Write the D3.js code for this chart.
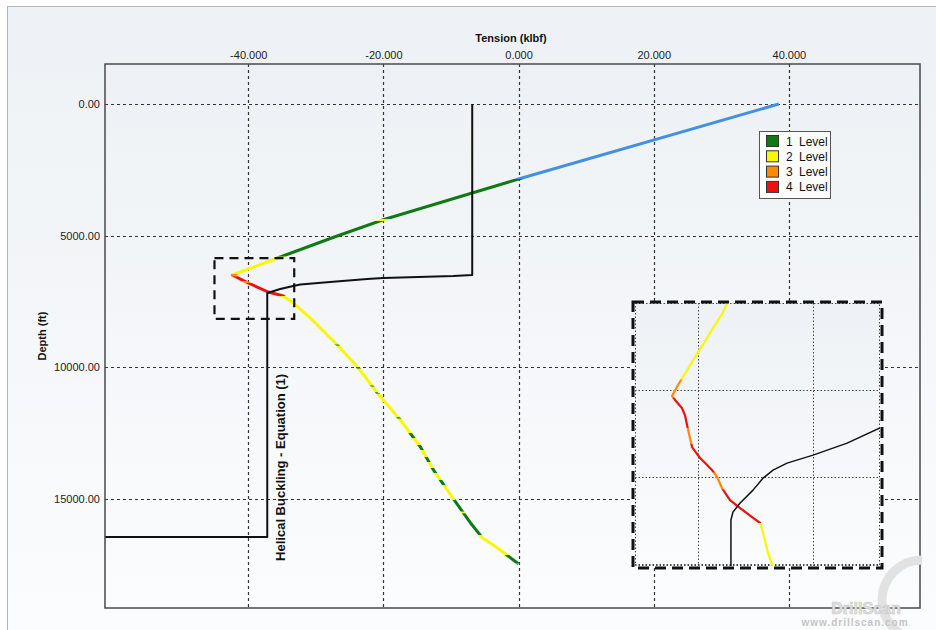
<!DOCTYPE html>
<html>
<head>
<meta charset="utf-8">
<script src="https://cdn.jsdelivr.net/npm/d3@7"></script>
<style>
  html, body { margin: 0; padding: 0; background: #fff; }
  svg { display: block; font-family: "Liberation Sans", Arial, sans-serif; }
</style>
</head>
<body>
<svg id="chart" width="936" height="630"></svg>
<script>
// ---------- data ----------
// Axis ticks
const tensionTicks = [-40, -20, 0, 20, 40];          // klbf
const depthTicks = [0, 5000, 10000, 15000];          // ft

// Effective tension along the string (top -> bottom)
const stringDepth   = [0, 2848, 4405, 5051, 5810, 6494, 6797, 7139, 7291, 7557, 8127, 9152, 10026, 10975, 12000, 13025, 13899, 15000, 15911, 16481, 16861, 17469];
const stringTension = [38.5, 0, -20.15, -27.26, -35.26, -42.37, -40.0, -37.04, -34.81, -33.33, -30.81, -26.81, -23.70, -20.89, -17.48, -14.52, -12.59, -9.63, -7.11, -5.33, -3.11, 0];

// Buckling level along the string: depth where each level starts, and the level (0 = none)
const levelStartDepth = [0, 2848, 4370, 4440, 5800, 6460, 6540, 6720, 6800, 7290, 9130, 9185, 9990, 10050, 10690, 10735, 10950, 11000, 11900, 11950, 12494, 12684, 12950, 13139, 13405, 13595, 13823, 14013, 14279, 14468, 15038, 15480, 15540, 16367, 17127, 17431];
const levelCode       = [0, 1, 2, 1, 2, 3, 4, 3, 4, 2, 1, 2, 1, 2, 1, 2, 1, 2, 1, 2, 1, 2, 1, 2, 1, 2, 1, 2, 1, 2, 1, 2, 1, 2, 1, 0];

// Helical buckling limit, Equation (1)
const limitDepth   = [0, 6494, 6532, 6608, 6646, 6760, 6855, 6911, 7025, 7177, 16443, 16443];
const limitTension = [-6.86, -6.86, -9.67, -20.02, -22.4, -27.9, -32.3, -33.35, -35.27, -37.19, -37.19, -61.2];

// Legend
const legendLevels = [1, 2, 3, 4];
const legendText = "Level";

// Detail window around the neutral point
const detailTension = [-45.0, -33.2];
const detailDepth = [5850, 8160];

// Detail view data
const detailStringDepth   = [6000, 6052, 6282, 6471, 6534, 6557, 6603, 6644, 6730, 6828, 6891, 6960, 7000, 7063, 7132, 7178, 7230, 7264, 7322, 7437, 7510];
const detailStringTension = [-38.74, -38.91, -40.0, -40.87, -41.13, -41.0, -40.70, -40.57, -40.43, -40.26, -39.91, -39.39, -39.17, -38.96, -38.61, -38.17, -37.65, -37.30, -37.17, -36.96, -36.75];
const detailLevelStart = [6000, 6440, 6545, 6720, 6810, 6975, 7070, 7264];
const detailLevelCode  = [2, 3, 4, 3, 4, 3, 4, 2];
const detailLimitDepth   = [6718, 6805, 6874, 6920, 6960, 7006, 7075, 7149, 7201, 7247, 7511];
const detailLimitTension = [-32.09, -33.52, -35.0, -36.13, -36.74, -37.17, -37.61, -38.17, -38.48, -38.57, -38.57];
const detailTensionGrid = [-40, -35];
const detailDepthGrid = [6500, 7000, 7500];

// ---------- styling ----------
const levelColor = { 0: "#4390e0", 1: "#0f7a12", 2: "#f8f800", 3: "#ff8a00", 4: "#f01010" };

const svg = d3.select("#chart");
const W = 936, H = 630;
const plot = { left: 105, right: 920, top: 64, bottom: 608 };

const x = d3.scaleLinear().domain([-61.2, 59.4]).range([plot.left, plot.right]);
const y = d3.scaleLinear().domain([-1520, 19140]).range([plot.top, plot.bottom]);

const defs = svg.append("defs");
const bg = defs.append("linearGradient").attr("id", "bgGrad")
  .attr("x1", 0).attr("y1", 0).attr("x2", 0).attr("y2", 1);
bg.append("stop").attr("offset", "0%").attr("stop-color", "#edf1f5");
bg.append("stop").attr("offset", "100%").attr("stop-color", "#fbfcfd");

defs.append("clipPath").attr("id", "plotClip").append("rect")
  .attr("x", plot.left).attr("y", plot.top)
  .attr("width", plot.right - plot.left).attr("height", plot.bottom - plot.top);

// page background and frame
svg.append("rect").attr("width", W).attr("height", H).attr("fill", "#ffffff");
svg.append("rect").attr("x", 7).attr("y", 6).attr("width", W - 7).attr("height", H - 6).attr("fill", "url(#bgGrad)");
svg.append("line").attr("x1", 7).attr("x2", W).attr("y1", 6.5).attr("y2", 6.5).attr("stroke", "#b5b5b5");
svg.append("line").attr("x1", 7.5).attr("x2", 7.5).attr("y1", 6).attr("y2", H).attr("stroke", "#b5b5b5");

// plot area
svg.append("rect")
  .attr("x", plot.left).attr("y", plot.top)
  .attr("width", plot.right - plot.left).attr("height", plot.bottom - plot.top)
  .attr("fill", "url(#bgGrad)");

// grid
const grid = svg.append("g").attr("stroke", "#333").attr("stroke-width", 1.2).attr("stroke-dasharray", "3,3");
grid.selectAll("line.v").data(tensionTicks).join("line").attr("class", "v")
  .attr("x1", d => Math.round(x(d)) + 0.5).attr("x2", d => Math.round(x(d)) + 0.5)
  .attr("y1", plot.top).attr("y2", plot.bottom);
grid.selectAll("line.h").data(depthTicks).join("line").attr("class", "h")
  .attr("y1", d => Math.round(y(d)) + 0.5).attr("y2", d => Math.round(y(d)) + 0.5)
  .attr("x1", plot.left).attr("x2", plot.right);

// axes
const xAxis = svg.append("g").attr("transform", `translate(0,${plot.top})`)
  .call(d3.axisTop(x).tickValues(tensionTicks).tickFormat(d => d.toFixed(3)).tickSize(0).tickPadding(5));
xAxis.select(".domain").remove();
xAxis.selectAll("text").attr("font-size", 11).attr("fill", "#222").attr("font-family", "Liberation Sans, Arial, sans-serif");

const yAxis = svg.append("g").attr("transform", `translate(${plot.left},0)`)
  .call(d3.axisLeft(y).tickValues(depthTicks).tickFormat(d => d.toFixed(2)).tickSize(0).tickPadding(5));
yAxis.select(".domain").remove();
yAxis.selectAll("text").attr("font-size", 11).attr("fill", "#222").attr("font-family", "Liberation Sans, Arial, sans-serif");

svg.append("text").attr("x", 511).attr("y", 42).attr("text-anchor", "middle")
  .attr("font-size", 11).attr("font-weight", "bold").attr("fill", "#111").text("Tension (klbf)");
svg.append("text").attr("transform", `translate(46,${(plot.top + plot.bottom) / 2}) rotate(-90)`)
  .attr("text-anchor", "middle").attr("font-size", 11).attr("font-weight", "bold").attr("fill", "#111").text("Depth (ft)");

// tension curve, coloured by buckling level through horizontal depth strips
const line = d3.line().x(d => x(d.t)).y(d => y(d.d));
const stringPts = stringDepth.map((d, i) => ({ d, t: stringTension[i] }));

function levelStrips(starts, codes, yScale, x0, x1, yEnd, prefix) {
  return starts.map((s, i) => {
    const top = i === 0 ? yScale.range()[0] - 5 : yScale(s);
    const bottom = i < starts.length - 1 ? yScale(starts[i + 1]) : yEnd + 5;
    const id = `${prefix}${i}`;
    defs.append("clipPath").attr("id", id).append("rect")
      .attr("x", x0).attr("width", x1 - x0).attr("y", top).attr("height", bottom - top);
    return { id, level: codes[i] };
  });
}

const plotLayer = svg.append("g").attr("clip-path", "url(#plotClip)");
const strips = levelStrips(levelStartDepth, levelCode, y, plot.left, plot.right, plot.bottom, "lvl");
strips.forEach(s => {
  plotLayer.append("g").attr("clip-path", `url(#${s.id})`)
    .append("path").datum(stringPts).attr("d", line)
    .attr("fill", "none").attr("stroke", levelColor[s.level])
    .attr("stroke-width", 3).attr("stroke-linejoin", "round");
});

// buckling limit
const limitPts = limitDepth.map((d, i) => ({ d, t: limitTension[i] }));
plotLayer.append("path").datum(limitPts).attr("d", line)
  .attr("fill", "none").attr("stroke", "#111").attr("stroke-width", 2).attr("stroke-linejoin", "round");

// plot border
svg.append("rect")
  .attr("x", plot.left).attr("y", plot.top)
  .attr("width", plot.right - plot.left).attr("height", plot.bottom - plot.top)
  .attr("fill", "none").attr("stroke", "#4a4a4a").attr("stroke-width", 1.5);

// detail window marker
svg.append("rect")
  .attr("x", x(detailTension[0])).attr("y", y(detailDepth[0]))
  .attr("width", x(detailTension[1]) - x(detailTension[0]))
  .attr("height", y(detailDepth[1]) - y(detailDepth[0]))
  .attr("fill", "none").attr("stroke", "#111").attr("stroke-width", 2.2).attr("stroke-dasharray", "9,6");

// helical buckling annotation
svg.append("text")
  .attr("transform", `translate(${x(-37.19) + 18},${y(13800)}) rotate(-90)`)
  .attr("text-anchor", "middle").attr("font-size", 13).attr("font-weight", "bold").attr("fill", "#111")
  .text("Helical Buckling - Equation (1)");

// legend
const legend = svg.append("g");
legend.append("rect").attr("x", 759.5).attr("y", 131.5).attr("width", 71).attr("height", 67)
  .attr("fill", "#fcfcfc").attr("stroke", "#555");
legendLevels.forEach((lv, i) => {
  const cy = 141 + i * 15.3;
  legend.append("rect").attr("x", 766.5).attr("y", cy - 5.5).attr("width", 12).attr("height", 11)
    .attr("fill", levelColor[lv]).attr("stroke", "#333").attr("stroke-width", 1);
  legend.append("text").attr("x", 786).attr("y", cy + 4.5).attr("font-size", 12).attr("fill", "#111").text(lv);
  legend.append("text").attr("x", 799).attr("y", cy + 4.5).attr("font-size", 12).attr("fill", "#111").text(legendText);
});

// detail view
const box = { left: 633, right: 882, top: 302, bottom: 568 };
const inner = { left: 635, right: 880, top: 303, bottom: 566 };
const xd = d3.scaleLinear().domain([-42.74, -32.09]).range([inner.left, inner.right]);
const yd = d3.scaleLinear().domain([6000, 7511]).range([inner.top, inner.bottom]);

svg.append("rect").attr("x", box.left).attr("y", box.top)
  .attr("width", box.right - box.left).attr("height", box.bottom - box.top)
  .attr("fill", "url(#bgGrad)");
defs.append("clipPath").attr("id", "detailClip").append("rect")
  .attr("x", inner.left).attr("y", inner.top)
  .attr("width", inner.right - inner.left).attr("height", inner.bottom - inner.top);

const dgrid = svg.append("g").attr("stroke", "#444").attr("stroke-width", 1).attr("stroke-dasharray", "1.5,2");
dgrid.selectAll("line.v").data(detailTensionGrid).join("line").attr("class", "v")
  .attr("x1", d => Math.round(xd(d)) + 0.5).attr("x2", d => Math.round(xd(d)) + 0.5)
  .attr("y1", inner.top).attr("y2", inner.bottom);
dgrid.selectAll("line.h").data(detailDepthGrid).join("line").attr("class", "h")
  .attr("y1", d => Math.round(yd(d)) + 0.5).attr("y2", d => Math.round(yd(d)) + 0.5)
  .attr("x1", inner.left).attr("x2", inner.right);
dgrid.append("rect").attr("x", inner.left + 0.5).attr("y", inner.top + 0.5)
  .attr("width", inner.right - inner.left - 1).attr("height", inner.bottom - inner.top - 1).attr("fill", "none");

const dline = d3.line().x(d => xd(d.t)).y(d => yd(d.d));
const detailLayer = svg.append("g").attr("clip-path", "url(#detailClip)");
const dStrips = levelStrips(detailLevelStart, detailLevelCode, yd, inner.left, inner.right, inner.bottom, "dlvl");
const detailPts = detailStringDepth.map((d, i) => ({ d, t: detailStringTension[i] }));
dStrips.forEach(s => {
  detailLayer.append("g").attr("clip-path", `url(#${s.id})`)
    .append("path").datum(detailPts).attr("d", dline)
    .attr("fill", "none").attr("stroke", levelColor[s.level])
    .attr("stroke-width", 2.2).attr("stroke-linejoin", "round");
});
const detailLimitPts = detailLimitDepth.map((d, i) => ({ d, t: detailLimitTension[i] }));
detailLayer.append("path").datum(detailLimitPts).attr("d", dline)
  .attr("fill", "none").attr("stroke", "#111").attr("stroke-width", 1.5).attr("stroke-linejoin", "round");

svg.append("rect").attr("x", box.left).attr("y", box.top)
  .attr("width", box.right - box.left).attr("height", box.bottom - box.top)
  .attr("fill", "none").attr("stroke", "#111").attr("stroke-width", 3).attr("stroke-dasharray", "11,6");

// watermark
const wm = svg.append("g").attr("fill", "#d6d6d6");
wm.append("path").attr("d", "M 922 560 A 40 40 0 0 0 922 640").attr("fill", "none")
  .attr("stroke", "#e2e2e2").attr("stroke-width", 9);
wm.append("text").attr("x", 866).attr("y", 614).attr("text-anchor", "middle")
  .attr("font-size", 16).attr("font-weight", "bold").attr("fill", "#e0e0e0").attr("stroke", "#c8c8c8").attr("stroke-width", 0.6)
  .text("DrillScan");
wm.append("text").attr("x", 855).attr("y", 626).attr("text-anchor", "middle")
  .attr("font-size", 10).attr("font-weight", "bold").attr("letter-spacing", 1).attr("fill", "#c4c4c4")
  .text("www.drillscan.com");
</script>
</body>
</html>
